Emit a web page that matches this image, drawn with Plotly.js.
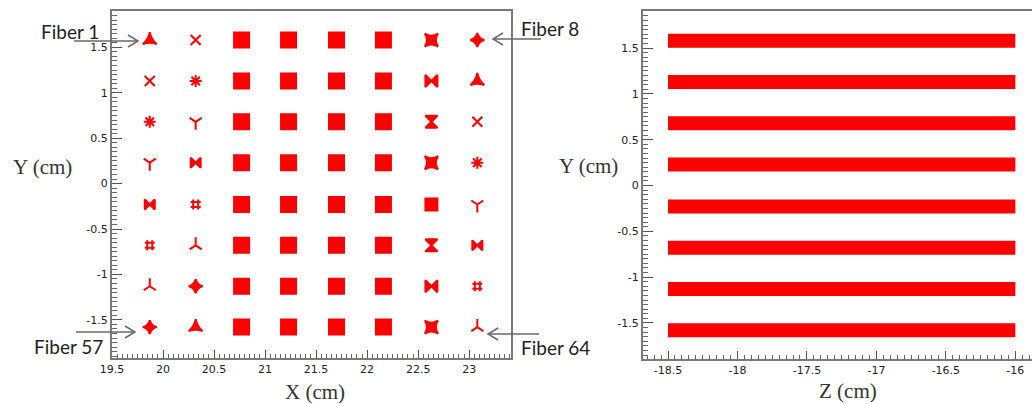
<!DOCTYPE html>
<html><head><meta charset="utf-8">
<script src="https://cdn.plot.ly/plotly-3.0.1.min.js"></script>
<style>html,body{margin:0;padding:0;background:#fff}#chart{width:1032px;height:404px}</style>
</head><body><div id="chart"></div>
<script>
// ---- data ----
const fiberX = [19.87, 20.32, 20.77, 21.23, 21.70, 22.16, 22.63, 23.08];   // fibre column centres (cm)
const fiberY = [1.58, 1.13, 0.68, 0.23, -0.23, -0.68, -1.13, -1.58];       // fibre row centres (cm)
const bandY  = [1.58, 1.13, 0.68, 0.23, -0.23, -0.68, -1.13, -1.58];       // rows seen in Z-Y view
const bandZ  = [-18.5, -16];                                               // Z extent of the fibres (cm)
const xTickVals = [19.5, 20, 20.5, 21, 21.5, 22, 22.5, 23];
const xTickText = ['19.5', '20', '20.5', '21', '21.5', '22', '22.5', '23'];
const yTickVals = [-1.5, -1, -0.5, 0, 0.5, 1, 1.5];
const yTickText = ['-1.5', '-1', '-0.5', '0', '0.5', '1', '1.5'];
const zTickVals = [-18.5, -18, -17.5, -17, -16.5, -16];
const zTickText = ['-18.5', '-18', '-17.5', '-17', '-16.5', '-16'];
const fiberLabels = ['Fiber 1', 'Fiber 8', 'Fiber 57', 'Fiber 64'];
const axisTitles = ['X (cm)', 'Y (cm)', 'Z (cm)'];

// ---- build marks ----
const RED = '#ff0000';
const outerSyms = ['star-triangle-up', 'x-thin-open', 'asterisk-open', 'y-down-open', 'bowtie', 'hash-open', 'y-up-open', 'star-diamond'];
const midSyms = ['star-square', 'bowtie', 'hourglass', 'star-square', 'square', 'hourglass', 'bowtie', 'star-square'];
const px = [], py = [], sym = [], sz = [];
fiberY.forEach((y, r) => {
  fiberX.forEach((x, c) => {
    px.push(x); py.push(y);
    if (c >= 2 && c <= 5) { sym.push('square'); sz.push(15); }
    else if (c === 6) { sym.push(midSyms[r]); sz.push(12); }
    else { sym.push(outerSyms[(r + c) % outerSyms.length]); sz.push(10); }
  });
});

const bx = [], by = [];
bandY.forEach(y => { bx.push(bandZ[0], bandZ[1], null); by.push(y, y, null); });

const traces = [
  {type: 'scatter', mode: 'markers', x: px, y: py, xaxis: 'x', yaxis: 'y',
   marker: {color: RED, opacity: 1, symbol: sym, size: sz, line: {color: RED, width: 2}},
   hoverinfo: 'x+y', showlegend: false},
  {type: 'scatter', mode: 'lines', x: bx, y: by, xaxis: 'x2', yaxis: 'y2',
   line: {color: RED, width: 14}, connectgaps: false, hoverinfo: 'x+y', showlegend: false}
];

// ---- layout helpers (pixel -> paper) ----
const W = 1032, H = 404;
const PX = p => p / W, PY = p => 1 - p / H;

const tickFont = {family: 'DejaVu Sans, sans-serif', size: 11, color: '#222'};
const axBase = {
  showgrid: false, zeroline: false, showline: true, linecolor: '#7a7a7a', linewidth: 2,
  ticks: 'inside', tickcolor: '#555', tickwidth: 1, tickmode: 'array', tickfont: tickFont,
  fixedrange: true
};
function minor(len) { return {tickmode: 'linear', tick0: 0, dtick: 0.05, ticks: 'inside', ticklen: len, tickcolor: '#666', tickwidth: 1}; }

const layout = {
  width: W, height: H, margin: {l: 0, r: 0, t: 0, b: 0},
  paper_bgcolor: '#fff', plot_bgcolor: '#fff', showlegend: false,
  xaxis: Object.assign({}, axBase, {domain: [PX(112), PX(511)], range: [19.5, 23.41], anchor: 'y',
    tickvals: xTickVals, ticktext: xTickText, ticklen: 8, mirror: true, minor: minor(4)}),
  yaxis: Object.assign({}, axBase, {domain: [1 - 358 / H, 1 - 11 / H], range: [-1.92, 1.90], anchor: 'x',
    tickvals: yTickVals, ticktext: yTickText, ticklen: 10, mirror: true, minor: minor(5)}),
  xaxis2: Object.assign({}, axBase, {domain: [PX(643), 1], range: [-18.68, -15.88], anchor: 'y2',
    tickvals: zTickVals, ticktext: zTickText, ticklen: 8, mirror: true, minor: minor(4)}),
  yaxis2: Object.assign({}, axBase, {domain: [1 - 359 / H, 1 - 11 / H], range: [-1.893, 1.904], anchor: 'x2',
    tickvals: yTickVals, ticktext: yTickText, ticklen: 10, mirror: false, minor: minor(5)}),
  annotations: [],
  shapes: []
};

const serif = {family: 'Liberation Serif, DejaVu Serif, serif', size: 21, color: '#333'};
const lab = {family: 'Lato, Open Sans, sans-serif', size: 19, color: '#222'};
function ann(text, x, y, font) {
  layout.annotations.push({text: text, xref: 'paper', yref: 'paper', x: PX(x), y: PY(y),
    xanchor: 'center', yanchor: 'middle', showarrow: false, font: font});
}
ann(axisTitles[0], 315, 392, serif);
ann(axisTitles[2], 848, 391, serif);
ann(axisTitles[1], 42, 167, serif);
ann(axisTitles[1], 588, 166, serif);
ann(fiberLabels[0], 70, 32, lab);
ann(fiberLabels[1], 550, 29, lab);
ann(fiberLabels[2], 68, 346, lab);
ann(fiberLabels[3], 555, 347, lab);

// arrows with open chevron heads
function arrow(x0, x1, y) {
  const dir = Math.sign(x1 - x0);
  const ln = {color: '#6a6a6a', width: 1.5};
  layout.shapes.push({type: 'line', xref: 'paper', yref: 'paper', x0: PX(x0), x1: PX(x1), y0: PY(y), y1: PY(y), line: ln});
  const bxp = x1 - dir * 10;
  layout.shapes.push({type: 'path', xref: 'paper', yref: 'paper',
    path: `M ${PX(bxp)} ${PY(y - 6)} L ${PX(x1)} ${PY(y)} L ${PX(bxp)} ${PY(y + 6)}`, line: ln});
}
arrow(74, 138, 41);
arrow(541, 493, 39);
arrow(76, 135, 332);
arrow(539, 488, 334);

Plotly.newPlot('chart', traces, layout, {displayModeBar: false, staticPlot: true});
</script>
</body></html>
